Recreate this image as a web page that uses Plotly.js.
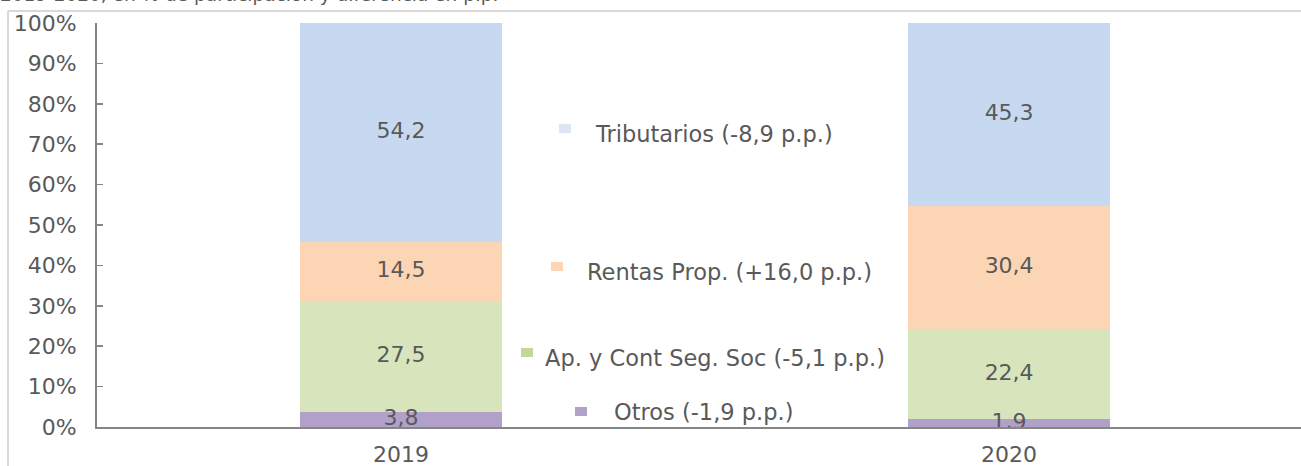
<!DOCTYPE html>
<html>
<head>
<meta charset="utf-8">
<script src="https://cdn.plot.ly/plotly-3.0.1.min.js"></script>
<style>html,body{margin:0;padding:0;background:#fff;}#chart{width:1301px;height:466px;}</style>
</head>
<body>
<div id="chart"></div>
<script>
const years = ['2019', '2020'];
const otros = [3.8, 1.9];
const apCont = [27.5, 22.4];
const rentas = [14.5, 30.4];
const tributarios = [54.2, 45.3];
const seriesNames = ['Otros (-1,9 p.p.)', 'Ap. y Cont Seg. Soc (-5,1 p.p.)', 'Rentas Prop. (+16,0 p.p.)', 'Tributarios (-8,9 p.p.)'];
const yTickVals = [0,10,20,30,40,50,60,70,80,90,100];
const yTickText = ['0%','10%','20%','30%','40%','50%','60%','70%','80%','90%','100%'];

const FONT = 'DejaVu Sans, sans-serif';
const TXT = '#595959';
const barColors = ['#b1a0c7', '#d8e4bc', '#fcd5b4', '#c6d9f0'];
const legendColors = ['#b3a2c7', '#c3d69b', '#fcd5b4', '#dce6f2'];
const series = [otros, apCont, rentas, tributarios];
const fmt = v => v.toFixed(1).replace('.', ',');

const traces = [];
series.forEach((vals, i) => {
  traces.push({
    type: 'bar', x: years, y: vals, name: seriesNames[i],
    marker: {color: barColors[i], line: {width: 0}},
    width: 0.332, hoverinfo: 'skip', showlegend: false
  });
});
const lx = [], ly = [], lt = [];
years.forEach((yr, j) => {
  let base = 0;
  series.forEach(vals => {
    lx.push(yr); ly.push(base + vals[j] / 2); lt.push(fmt(vals[j]));
    base += vals[j];
  });
});
traces.push({
  type: 'scatter', mode: 'text', x: lx, y: ly, text: lt,
  textfont: {family: FONT, size: 22, color: TXT}, hoverinfo: 'skip', showlegend: false
});

const W = 1301, L = 97, T = 23, B = 39;
const plotW = W - L, plotH = 466 - T - B;
const px = p => (p - L) / plotW;
const py = p => (466 - B - p) / plotH;

const legendPos = [
  [575, 587, 407, 416, 612, 412],
  [521, 533, 348, 357, 543, 358],
  [551, 563, 262, 271, 585, 272],
  [559, 571, 124, 133, 593, 134]
];
const shapes = [
  {type: 'line', xref: 'paper', yref: 'paper', x0: px(8), x1: px(1301), y0: py(11), y1: py(11), line: {color: '#d9d9d9', width: 2}},
  {type: 'line', xref: 'paper', yref: 'paper', x0: px(8), x1: px(8), y0: py(11), y1: py(466), line: {color: '#d9d9d9', width: 2}}
];
const annotations = [{
  xref: 'paper', yref: 'paper', x: px(-2), y: py(-5), xanchor: 'left', yanchor: 'middle',
  text: '2019-2020, en % de participación y diferencia en p.p.', showarrow: false,
  font: {family: FONT, size: 18.5, color: TXT}
}];
legendPos.forEach((p, i) => {
  shapes.push({type: 'rect', xref: 'paper', yref: 'paper', x0: px(p[0]), x1: px(p[1]), y0: py(p[3]), y1: py(p[2]),
    fillcolor: legendColors[i], line: {width: 0}});
  annotations.push({xref: 'paper', yref: 'paper', x: px(p[4]), y: py(p[5]), xanchor: 'left', yanchor: 'middle',
    text: seriesNames[i], showarrow: false, font: {family: FONT, size: 22.5, color: TXT}});
});

const layout = {
  width: W, height: 466,
  margin: {l: L, r: 0, t: T, b: B, pad: 0},
  paper_bgcolor: '#fff', plot_bgcolor: '#fff',
  barmode: 'stack', separators: ',.',
  showlegend: false,
  xaxis: {type: 'category', range: [-0.5, 1.48], showgrid: false, zeroline: false,
    showline: true, linecolor: '#868686', linewidth: 2, ticks: '',
    tickfont: {family: FONT, size: 22, color: TXT}, ticklabelstandoff: 7, fixedrange: true},
  yaxis: {range: [0, 100], tickvals: yTickVals, ticktext: yTickText, showgrid: false, zeroline: false,
    showline: true, linecolor: '#868686', linewidth: 2, ticks: 'inside', ticklen: 6, tickcolor: '#868686', tickwidth: 1.5,
    tickfont: {family: FONT, size: 22, color: TXT}, ticklabelstandoff: 14, fixedrange: true},
  shapes: shapes, annotations: annotations,
  font: {family: FONT, color: TXT}
};
Plotly.newPlot('chart', traces, layout, {displayModeBar: false, staticPlot: true});
</script>
</body>
</html>
